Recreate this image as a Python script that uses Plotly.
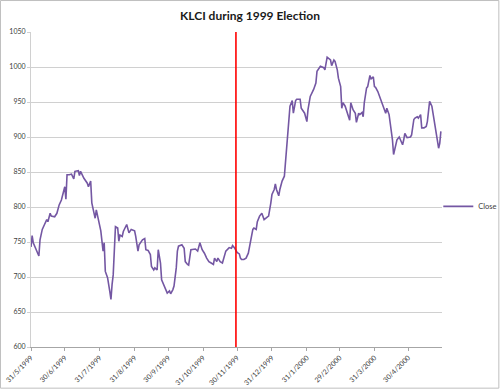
import plotly.graph_objects as go

# ---- data ----
dates = [
"1999-05-31","1999-06-01","1999-06-02","1999-06-04","1999-06-07","1999-06-08","1999-06-10","1999-06-12",
"1999-06-14","1999-06-15","1999-06-17","1999-06-18","1999-06-21","1999-06-23","1999-06-25","1999-06-27",
"1999-06-29","1999-06-30","1999-07-01","1999-07-02","1999-07-04","1999-07-06","1999-07-08","1999-07-09",
"1999-07-12","1999-07-13","1999-07-14","1999-07-17","1999-07-20","1999-07-21","1999-07-23","1999-07-24",
"1999-07-26","1999-07-27","1999-07-28","1999-07-30","1999-08-01","1999-08-03","1999-08-04","1999-08-05",
"1999-08-07","1999-08-09","1999-08-10","1999-08-11","1999-08-12","1999-08-14","1999-08-16","1999-08-17",
"1999-08-18","1999-08-20","1999-08-21","1999-08-24","1999-08-26","1999-08-28","1999-08-31","1999-09-01",
"1999-09-03","1999-09-04","1999-09-07","1999-09-09","1999-09-10","1999-09-12","1999-09-14","1999-09-15",
"1999-09-17","1999-09-18","1999-09-20","1999-09-21","1999-09-23","1999-09-24","1999-09-26","1999-09-28",
"1999-09-29","1999-10-01","1999-10-02","1999-10-04","1999-10-05","1999-10-07","1999-10-08","1999-10-09",
"1999-10-12","1999-10-14","1999-10-15","1999-10-17","1999-10-18","1999-10-20","1999-10-22","1999-10-24",
"1999-10-26","1999-10-28","1999-10-30","1999-11-01","1999-11-03","1999-11-05","1999-11-07","1999-11-09",
"1999-11-10","1999-11-12","1999-11-13","1999-11-15","1999-11-17","1999-11-19","1999-11-20","1999-11-23",
"1999-11-25","1999-11-26","1999-11-28","1999-11-30","1999-12-02","1999-12-03","1999-12-04","1999-12-06",
"1999-12-08","1999-12-10","1999-12-12","1999-12-14","1999-12-15","1999-12-17","1999-12-18","1999-12-20",
"1999-12-22","1999-12-24","1999-12-27","1999-12-28","1999-12-30","1999-12-31","2000-01-02","2000-01-03",
"2000-01-04","2000-01-06","2000-01-07","2000-01-09","2000-01-11","2000-01-13","2000-01-15","2000-01-16",
"2000-01-18","2000-01-19","2000-01-21","2000-01-22","2000-01-25","2000-01-26","2000-01-29","2000-01-31",
"2000-02-01","2000-02-03","2000-02-06","2000-02-08","2000-02-09","2000-02-12","2000-02-15","2000-02-16",
"2000-02-18","2000-02-21","2000-02-22","2000-02-24","2000-02-25","2000-02-27","2000-02-28","2000-03-01",
"2000-03-02","2000-03-03","2000-03-05","2000-03-06","2000-03-08","2000-03-09","2000-03-10","2000-03-12",
"2000-03-14","2000-03-15","2000-03-17","2000-03-18","2000-03-20","2000-03-21","2000-03-22","2000-03-24",
"2000-03-25","2000-03-27","2000-03-28","2000-03-30","2000-03-31","2000-04-01","2000-04-03","2000-04-05",
"2000-04-07","2000-04-09","2000-04-10","2000-04-11","2000-04-13","2000-04-14","2000-04-16","2000-04-17",
"2000-04-19","2000-04-20","2000-04-22","2000-04-23","2000-04-25","2000-04-26","2000-04-27","2000-04-29",
"2000-05-02","2000-05-03","2000-05-05","2000-05-06","2000-05-08","2000-05-09","2000-05-11","2000-05-12",
"2000-05-14","2000-05-16","2000-05-17","2000-05-19","2000-05-21","2000-05-22","2000-05-24","2000-05-25",
"2000-05-27","2000-05-28","2000-05-29",
]
close = [
743,759,749,741,730,753,768,775,
782,779,791,787,786,791,803,810,
822,829,811,846,846,847,840,851,
852,845,851,841,834,829,837,806,
791,784,796,778,766,737,749,708,
699,679,668,689,703,772,770,751,
760,758,765,775,763,768,766,758,
737,746,753,755,739,738,732,715,
710,713,710,739,720,696,689,682,
677,680,676,682,687,713,737,744,
746,741,722,718,717,739,739,740,
737,749,739,734,727,722,720,718,
727,722,727,722,720,732,737,742,
741,745,741,735,733,727,725,725,
727,734,753,768,770,768,779,787,
791,782,786,787,806,818,825,833,
825,816,825,837,844,889,932,944,
952,934,952,954,954,941,934,922,
939,958,968,977,994,1001,999,996,
1014,1010,1002,1010,1008,996,984,972,
941,949,944,939,929,924,949,939,
934,921,934,932,935,929,949,970,
972,988,983,986,972,971,965,956,
949,941,934,941,932,920,896,875,
887,896,900,896,889,896,905,899,
900,903,925,927,929,927,932,913,
913,915,922,951,944,934,915,902,
884,891,908,
]
series_name = "Close"
title_text = "KLCI during 1999 Election"
election_date = "1999-11-29"
x_tick_dates = ["1999-05-31","1999-06-30","1999-07-31","1999-08-31","1999-09-30","1999-10-31",
                "1999-11-30","1999-12-31","2000-01-31","2000-02-29","2000-03-31","2000-04-30"]
x_tick_labels = ["31/5/1999","30/6/1999","31/7/1999","31/8/1999","30/9/1999","31/10/1999",
                 "30/11/1999","31/12/1999","31/1/2000","29/2/2000","31/3/2000","30/4/2000"]
y_ticks = [600, 650, 700, 750, 800, 850, 900, 950, 1000, 1050]

# ---- layout geometry (pixels) ----
W, H = 500, 390
L, R, T, B = 31, 441.7, 32, 347.3
pw, ph = R - L, B - T

def px_to_paper_x(px):
    return (px - L) / pw

def px_to_paper_y(py):
    return (B - py) / ph

fig = go.Figure()
fig.add_trace(go.Scatter(
    x=dates, y=close, mode="lines", name=series_name,
    line=dict(color="#7457A3", width=1.6),
))

fig.add_shape(type="line", xref="x", yref="paper", x0=election_date, x1=election_date,
              y0=0, y1=1, line=dict(color="#FF0000", width=1.6))
# chart-area border
fig.add_shape(type="rect", xref="paper", yref="paper",
              x0=px_to_paper_x(0.5), x1=px_to_paper_x(W - 1.5),
              y0=px_to_paper_y(H - 1.5), y1=px_to_paper_y(0.5),
              line=dict(color="#BFBFBF", width=1), layer="below")

fig.update_layout(
    width=W, height=H,
    margin=dict(l=L, r=W - R, t=T, b=H - B, autoexpand=False),
    paper_bgcolor="white", plot_bgcolor="white",
    font=dict(family="Lato, Liberation Sans, sans-serif", color="#404040"),
    title=dict(text=title_text, x=0.5, xref="container", xanchor="center",
               y=1 - 15.5 / H, yref="container", yanchor="middle",
               font=dict(size=12, color="#1a1a1a", family="Lato, sans-serif", weight="bold")),
    showlegend=True,
    legend=dict(x=px_to_paper_x(438), y=px_to_paper_y(206.5), xanchor="left", yanchor="middle",
                font=dict(size=7.5, color="#404040"), itemwidth=30, bgcolor="rgba(0,0,0,0)"),
    xaxis=dict(type="date", range=["1999-05-31", "2000-05-30"],
               tickvals=x_tick_dates, ticktext=x_tick_labels, tickangle=-45,
               tickfont=dict(size=7, color="#404040"),
               showgrid=False, zeroline=False,
               showline=True, linecolor="#A6A6A6", linewidth=1,
               ticks="outside", ticklen=3, tickcolor="#A6A6A6"),
    yaxis=dict(range=[600, 1050], tickvals=y_ticks,
               tickfont=dict(size=7, color="#404040"),
               showgrid=True, gridcolor="#D0D0D0", gridwidth=1, zeroline=False,
               showline=True, linecolor="#D0D0D0", linewidth=1,
               ticks="outside", ticklen=3, tickcolor="#D0D0D0"),
)

fig.write_html("out.html", config={"displayModeBar": False},
               post_script="document.body.style.margin='0';")
